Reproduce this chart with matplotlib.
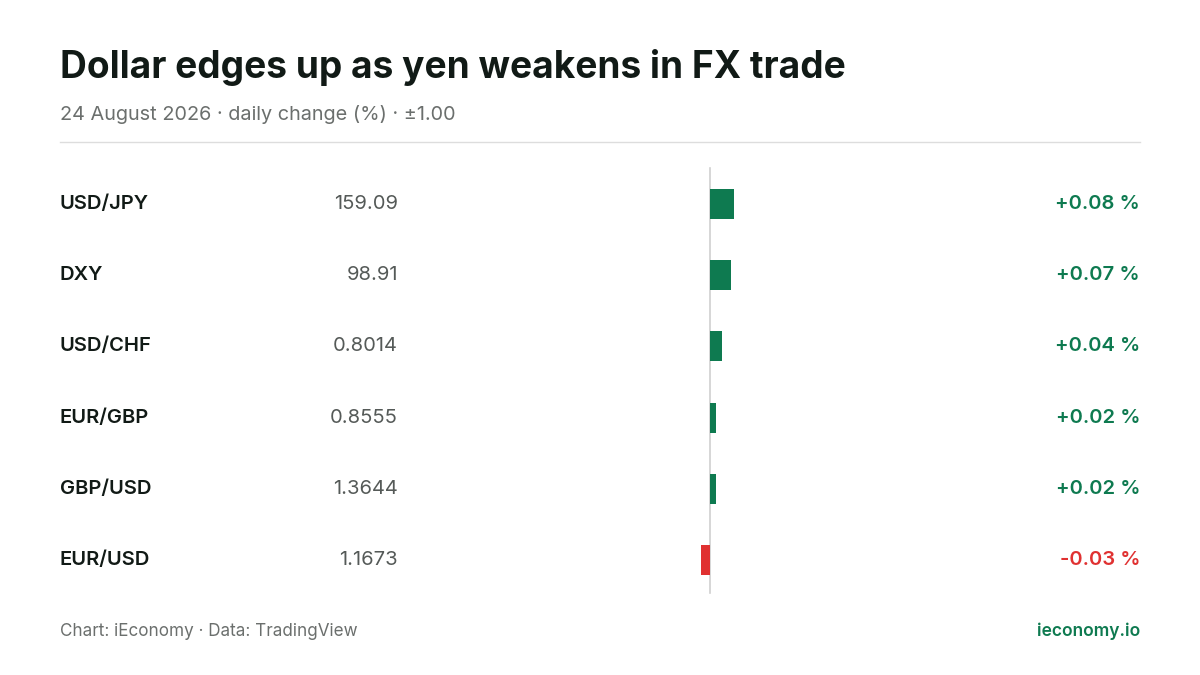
import matplotlib.pyplot as plt

plt.rcParams['font.family'] = ['Inter', 'DejaVu Sans']

# data
pairs = ["USD/JPY", "DXY", "USD/CHF", "EUR/GBP", "GBP/USD", "EUR/USD"]
prices = ["159.09", "98.91", "0.8014", "0.8555", "1.3644", "1.1673"]
changes = [0.08, 0.07, 0.04, 0.02, 0.02, -0.03]

green = "#0e7a50"
red = "#e03131"
W, H = 1200, 675

fig = plt.figure(figsize=(12, 6.75), dpi=100)

def fx(px):
    return px / W

def fy(py):
    return 1 - py / H

# title and subtitle
fig.text(fx(60), fy(68), "Dollar edges up as yen weakens in FX trade", fontsize=26.7,
         fontweight="bold", color="#111a16", va="center")
fig.text(fx(60), fy(114), "24 August 2026 · daily change (%) · ±1.00", fontsize=14.3,
         color="#6b6f6d", va="center")
fig.add_artist(plt.Line2D([fx(60), fx(1140)], [fy(142), fy(142)], color="#dddddd", lw=1))

# bar area: x -1..1 over 410..1010 px, rows spaced ~71 px
ax = fig.add_axes([fx(410), fy(596), fx(600), (596 - 168) / H])
n = len(pairs)
ypos = list(range(n))
colors = [green if c >= 0 else red for c in changes]
ax.barh(ypos, changes, height=0.42, color=colors)
ax.set_xlim(-1, 1)
ax.set_ylim(n - 0.5 + 0.0, -0.5)
ax.axis("off")
fig.add_artist(plt.Line2D([fx(710), fx(710)], [fy(168), fy(593)], color="#d0d0d0", lw=1.2, zorder=0))

for i in range(n):
    y = ypos[i]
    ax.text(-1 - 350 / 300, y, pairs[i], fontsize=14.5, fontweight="semibold",
            color="#111a16", va="center", ha="left", clip_on=False)
    ax.text(-1 - 12 / 300, y, prices[i], fontsize=14.5, color="#555a58",
            va="center", ha="right", clip_on=False)
    sign = "+" if changes[i] >= 0 else "-"
    ax.text(1 + 130 / 300, y, f"{sign}{abs(changes[i]):.2f} %", fontsize=14.5,
            fontweight="semibold", color=colors[i], va="center", ha="right", clip_on=False)

# footer
fig.text(fx(60), fy(631), "Chart: iEconomy · Data: TradingView", fontsize=12.3,
         color="#6b6f6d", va="center")
fig.text(fx(1140), fy(631), "ieconomy.io", fontsize=12.5, fontweight="semibold",
         color=green, va="center", ha="right")

fig.savefig("out.png", dpi=100, facecolor="white")
